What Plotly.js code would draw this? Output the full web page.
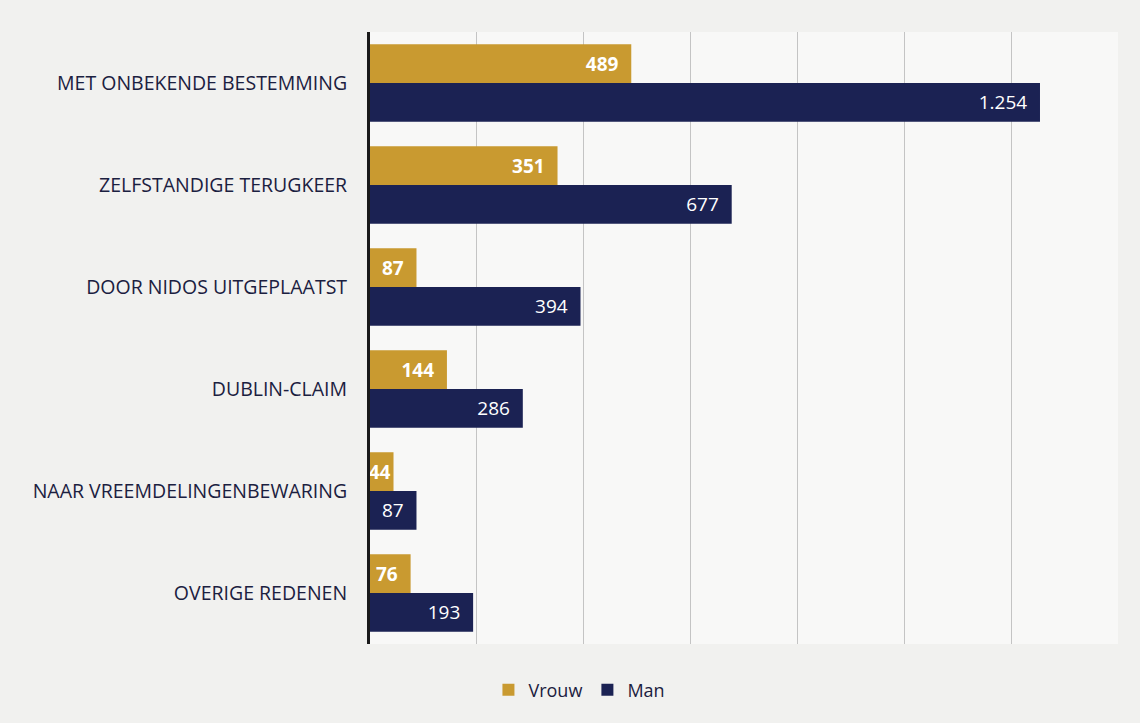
<!DOCTYPE html>
<html>
<head>
<meta charset="utf-8">
<script src="https://cdn.plot.ly/plotly-3.0.1.min.js"></script>
<style>html,body{margin:0;padding:0;background:#f1f1ef;}#chart{width:1140px;height:723px;}</style>
</head>
<body>
<div id="chart"></div>
<script>
const categories = [
  "MET ONBEKENDE BESTEMMING",
  "ZELFSTANDIGE TERUGKEER",
  "DOOR NIDOS UITGEPLAATST",
  "DUBLIN-CLAIM",
  "NAAR VREEMDELINGENBEWARING",
  "OVERIGE REDENEN"
];
const vrouw = [489, 351, 87, 144, 44, 76];
const man = [1254, 677, 394, 286, 87, 193];

const gold = "#c99a30";
const navy = "#1b2253";

// labels on bars too short for end padding are drawn without it
function templates(vals) {
  return vals.map(v => v < 60 ? "%{x:,}" : "%{x:,}\u00a0\u00a0");
}

const common = {
  type: "bar",
  orientation: "h",
  y: categories,
  textposition: "inside",
  insidetextanchor: "end",
  constraintext: "none",
  textangle: 0,
  hoverinfo: "x+name",
  cliponaxis: false
};

const traces = [
  Object.assign({}, common, {
    name: "Vrouw", x: vrouw,
    texttemplate: templates(vrouw),
    marker: {color: gold},
    textfont: {color: "#ffffff", size: 19, family: "Open Sans", weight: "bold"}
  }),
  Object.assign({}, common, {
    name: "Man", x: man,
    texttemplate: templates(man),
    marker: {color: navy},
    textfont: {color: "#ffffff", size: 19, family: "Open Sans"}
  })
];

const layout = {
  width: 1140, height: 723,
  margin: {l: 370, r: 22, t: 32, b: 79},
  paper_bgcolor: "#f1f1ef",
  plot_bgcolor: "#f8f8f7",
  separators: ",.",
  barmode: "group",
  bargap: 0.24,
  bargroupgap: 0,
  font: {family: "Open Sans", color: "#1b2253"},
  xaxis: {
    range: [0, 1400],
    dtick: 200,
    showticklabels: false,
    showgrid: true,
    gridcolor: "#c4c4c4",
    gridwidth: 1,
    zeroline: false,
    showline: false,
    fixedrange: true
  },
  yaxis: {
    autorange: "reversed",
    showline: true,
    linecolor: "#1a1a1a",
    linewidth: 3,
    ticks: "",
    ticklabelstandoff: 16,
    tickfont: {size: 19.5, color: "#1b2040", family: "Open Sans"},
    showgrid: false,
    fixedrange: true
  },
  showlegend: true,
  legend: {
    orientation: "h",
    x: 0.28, xanchor: "center",
    y: -0.045, yanchor: "top",
    font: {size: 18, color: "#1b2040", family: "Open Sans"},
    itemwidth: 30,
    bgcolor: "rgba(0,0,0,0)"
  }
};

Plotly.newPlot("chart", traces, layout, {displayModeBar: false, staticPlot: true});
</script>
</body>
</html>
